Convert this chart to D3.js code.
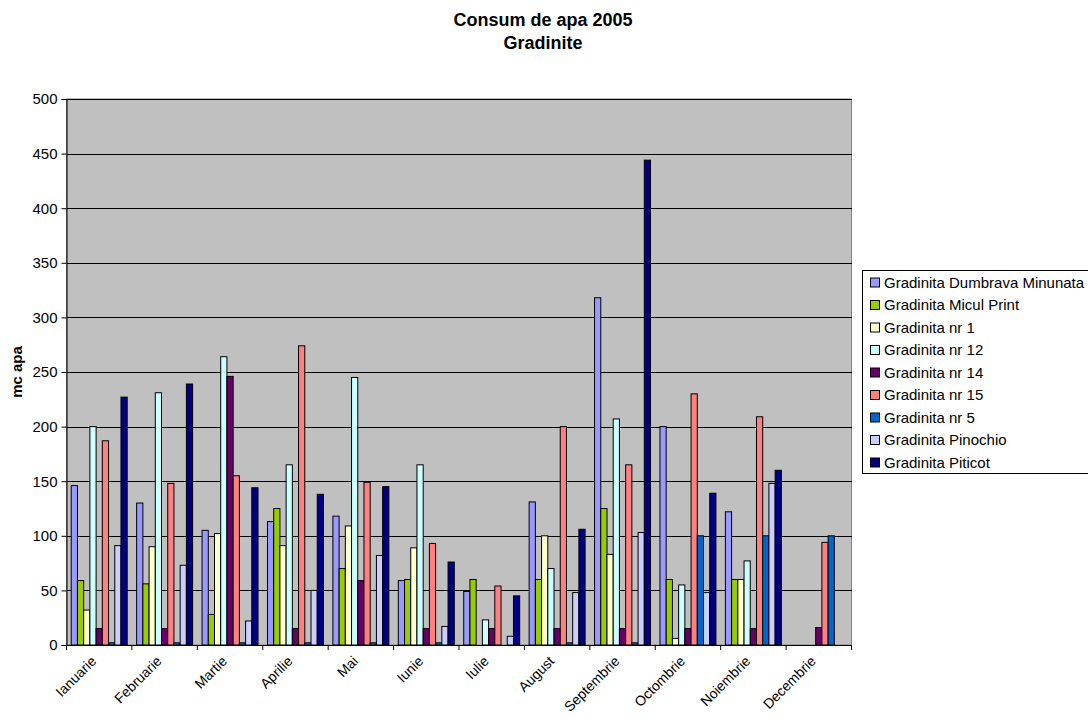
<!DOCTYPE html>
<html>
<head>
<meta charset="utf-8">
<script src="https://cdn.jsdelivr.net/npm/d3@7"></script>
<style>
	body { margin: 0; background: #fff; }
	svg { display: block; font-family: "Liberation Sans", Arial, sans-serif; }
</style>
</head>
<body>
<div id="wrapper"></div>
<script>
const months = ["Ianuarie", "Februarie", "Martie", "Aprilie", "Mai", "Iunie", "Iulie", "August", "Septembrie", "Octombrie", "Noiembrie", "Decembrie"];
const seriesNames = ["Gradinita Dumbrava Minunata", "Gradinita Micul Print", "Gradinita nr 1", "Gradinita nr 12", "Gradinita nr 14", "Gradinita nr 15", "Gradinita nr 5", "Gradinita Pinochio", "Gradinita Piticot"];
const seriesColors = ["#9999FF", "#99CC00", "#FFFFCC", "#CCFFFF", "#660066", "#FF8080", "#0066CC", "#CCCCFF", "#000080"];

const dumbrava = [146, 130, 105, 113, 118, 59, 49, 131, 318, 200, 122, 0];
const miculPrint = [59, 56, 28, 125, 70, 60, 60, 60, 125, 60, 60, 0];
const nr1 = [32, 90, 102, 91, 109, 89, 0, 100, 83, 6, 60, 0];
const nr12 = [200, 231, 264, 165, 245, 165, 23, 70, 207, 55, 77, 0];
const nr14 = [15, 15, 246, 15, 59, 15, 15, 15, 15, 15, 15, 16];
const nr15 = [187, 148, 155, 274, 149, 93, 54, 200, 165, 230, 209, 94];
const nr5 = [2, 2, 2, 2, 2, 2, 0, 2, 2, 100, 100, 100];
const pinochio = [91, 73, 22, 50, 82, 17, 8, 48, 103, 48, 148, 0];
const piticot = [227, 239, 144, 138, 145, 76, 45, 106, 444, 139, 160, 0];

const yTicks = [0, 50, 100, 150, 200, 250, 300, 350, 400, 450, 500];

const drawChart = () => {
	const values = [dumbrava, miculPrint, nr1, nr12, nr14, nr15, nr5, pinochio, piticot];

	// 1. Dimensions
	const dimensions = {
		width: 1088,
		height: 724,
		margins: { top: 99, right: 236.5, bottom: 79, left: 66.5 },
	};
	dimensions.boundedWidth = dimensions.width - dimensions.margins.left - dimensions.margins.right;
	dimensions.boundedHeight = dimensions.height - dimensions.margins.top - dimensions.margins.bottom;

	// 2. Canvas
	const svg = d3
		.select("#wrapper")
		.append("svg")
		.attr("width", dimensions.width)
		.attr("height", dimensions.height);

	const bounds = svg
		.append("g")
		.attr("transform", `translate(${dimensions.margins.left}, ${dimensions.margins.top})`);

	// 3. Scales
	const xScale = d3.scaleBand().domain(months).range([0, dimensions.boundedWidth]).padding(0);
	const xInner = d3
		.scaleBand()
		.domain(seriesNames)
		.range([0, xScale.bandwidth()])
		.paddingInner(0)
		.paddingOuter(0.76);
	const yScale = d3.scaleLinear().domain([0, 500]).range([dimensions.boundedHeight, 0]);
	const color = d3.scaleOrdinal().domain(seriesNames).range(seriesColors);

	// plot background
	bounds
		.append("rect")
		.attr("width", dimensions.boundedWidth)
		.attr("height", dimensions.boundedHeight)
		.attr("fill", "#C0C0C0")
		.attr("stroke", "#808080")
		.attr("stroke-width", 1);

	// gridlines
	bounds
		.append("g")
		.selectAll("line")
		.data(yTicks.filter((d) => d > 0))
		.join("line")
		.attr("x1", 0)
		.attr("x2", dimensions.boundedWidth)
		.attr("y1", (d) => Math.round(yScale(d)) + 0.5)
		.attr("y2", (d) => Math.round(yScale(d)) + 0.5)
		.attr("stroke", "#000")
		.attr("shape-rendering", "crispEdges");

	// bars
	const rows = [];
	months.forEach((m, i) => {
		seriesNames.forEach((s, j) => {
			if (values[j][i] > 0) rows.push({ month: m, series: s, value: values[j][i] });
		});
	});

	bounds
		.append("g")
		.selectAll("rect")
		.data(rows)
		.join("rect")
		.attr("x", (d) => xScale(d.month) + xInner(d.series))
		.attr("y", (d) => yScale(d.value))
		.attr("width", xInner.bandwidth())
		.attr("height", (d) => yScale(0) - yScale(d.value))
		.attr("fill", (d) => color(d.series))
		.attr("stroke", "#000")
		.attr("stroke-width", 1);

	// y axis
	const yAxis = bounds
		.append("g")
		.call(d3.axisLeft(yScale).tickValues(yTicks).tickSize(5).tickPadding(4));
	yAxis.selectAll("text").attr("font-size", 15).attr("fill", "#000").style("font-family", "Liberation Sans, Arial, sans-serif");
	yAxis.selectAll("line, path").attr("stroke", "#000");

	// x axis: ticks on category boundaries
	const xAxis = bounds.append("g").attr("transform", `translate(0, ${dimensions.boundedHeight})`);
	xAxis
		.append("line")
		.attr("x1", 0)
		.attr("x2", dimensions.boundedWidth)
		.attr("y1", 0.5)
		.attr("y2", 0.5)
		.attr("stroke", "#000");
	xAxis
		.selectAll(".tick-line")
		.data(months.concat([null]))
		.join("line")
		.attr("class", "tick-line")
		.attr("x1", (d, i) => i * xScale.step())
		.attr("x2", (d, i) => i * xScale.step())
		.attr("y1", 0)
		.attr("y2", 5)
		.attr("stroke", "#000");
	xAxis
		.selectAll(".tick-label")
		.data(months)
		.join("text")
		.attr("class", "tick-label")
		.attr("transform", (d) => `translate(${xScale(d) + xScale.bandwidth() / 2 - 2}, 17) rotate(-45)`)
		.attr("text-anchor", "end")
		.attr("font-size", 14)
		.text((d) => d);

	// axis title
	svg
		.append("text")
		.attr("transform", `translate(22, ${dimensions.margins.top + dimensions.boundedHeight / 2}) rotate(-90)`)
		.attr("text-anchor", "middle")
		.attr("font-size", 15)
		.attr("font-weight", "bold")
		.text("mc apa");

	// title
	const title = svg.append("text").attr("text-anchor", "middle").attr("font-size", 18).attr("font-weight", "bold");
	title.append("tspan").attr("x", 543).attr("y", 26).text("Consum de apa 2005");
	title.append("tspan").attr("x", 543).attr("y", 49).text("Gradinite");

	// legend
	const legend = svg.append("g").attr("transform", "translate(862, 270)");
	legend
		.append("rect")
		.attr("x", 0.5)
		.attr("y", 0.5)
		.attr("width", 240)
		.attr("height", 203)
		.attr("fill", "#fff")
		.attr("stroke", "#000");
	const item = legend
		.selectAll(".item")
		.data(seriesNames)
		.join("g")
		.attr("class", "item")
		.attr("transform", (d, i) => `translate(0, ${12.5 + i * 22.5})`);
	item
		.append("rect")
		.attr("x", 8.5)
		.attr("y", -4.5)
		.attr("width", 9)
		.attr("height", 9)
		.attr("fill", (d) => color(d))
		.attr("stroke", "#000");
	item
		.append("text")
		.attr("x", 22)
		.attr("y", 5)
		.attr("font-size", 15)
		.text((d) => d);
};

drawChart();
</script>
</body>
</html>
